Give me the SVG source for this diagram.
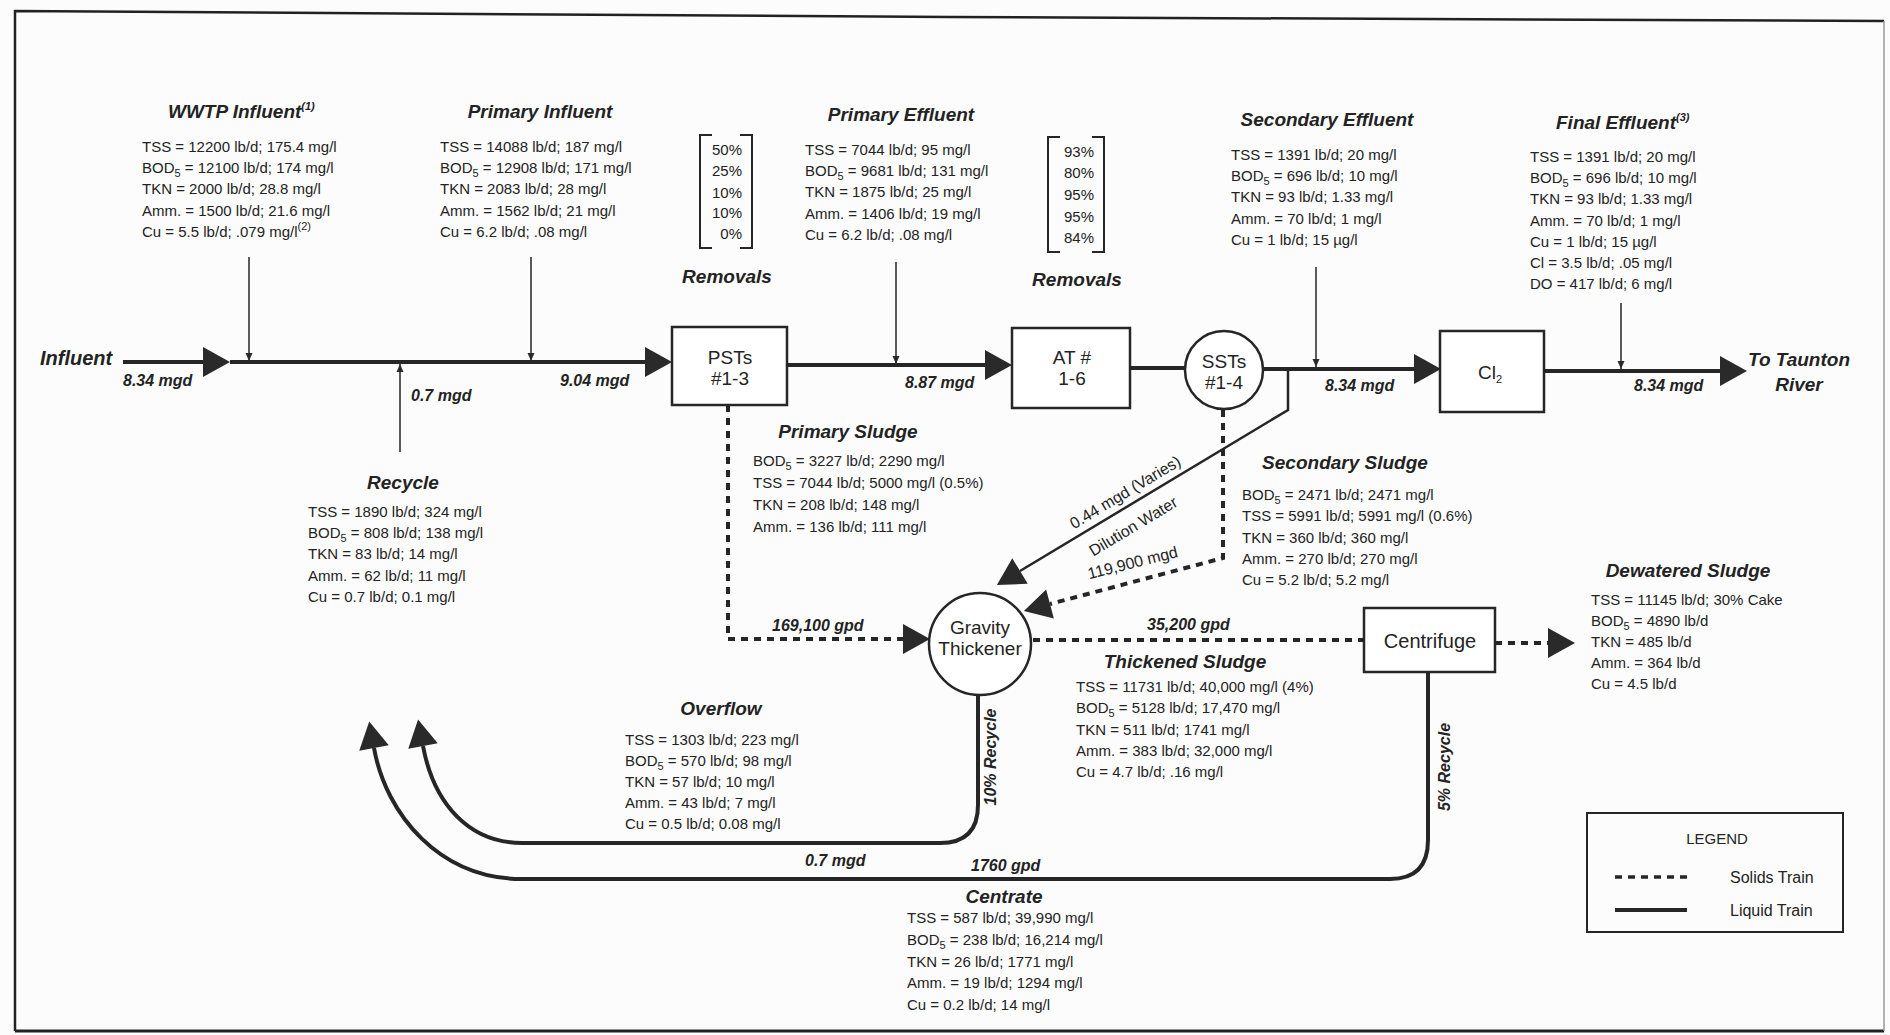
<svg xmlns="http://www.w3.org/2000/svg" width="1890" height="1035" viewBox="0 0 1890 1035">
<style>
text{font-family:"Liberation Sans",Arial,sans-serif;fill:#232323}
.d{font-size:15px}
.s{font-size:11px}
.t{font-size:19px;font-style:italic;font-weight:bold}
.f{font-size:16px;font-style:italic;font-weight:bold}
.n{font-size:19px}
.r{font-size:16px}
.c{text-anchor:middle}
.e{text-anchor:end}
.liq{stroke:#262626;stroke-width:4;fill:none}
.thin{stroke:#262626;stroke-width:2.5;fill:none}
.sol{stroke:#262626;stroke-width:4;stroke-dasharray:7 6;fill:none}
.ptr{stroke:#262626;stroke-width:1.5;fill:none}
.box{fill:#fff;stroke:#262626;stroke-width:2.5}
.brk{stroke:#262626;stroke-width:2;fill:none}
</style>
<defs>
<marker id="ah" markerUnits="userSpaceOnUse" markerWidth="28" markerHeight="30" refX="0" refY="15" orient="auto" overflow="visible"><path d="M0,0 L27,15 L0,30 Z" fill="#2a2a2a"/></marker>
<marker id="sa" markerUnits="userSpaceOnUse" markerWidth="8" markerHeight="8" refX="8" refY="3.5" orient="auto" overflow="visible"><path d="M0,0 L8,3.5 L0,7 Z" fill="#2a2a2a"/></marker>
</defs>
<rect width="1890" height="1035" fill="#fcfcfc"/>
<g id="frame">
<path d="M15,1031 V11 L950,17 L1884,21" fill="none" stroke="#222" stroke-width="2.5"/>
<path d="M15,1031 H1884" fill="none" stroke="#222" stroke-width="3"/>
<path d="M1884,21 V1031" fill="none" stroke="#999" stroke-width="1.5"/>
</g>

<g id="connectors">
<path class="liq" d="M123,362 H203" marker-end="url(#ah)"/>
<path class="liq" d="M230,362 H645" marker-end="url(#ah)"/>
<path class="liq" d="M787,365 H985" marker-end="url(#ah)"/>
<path class="liq" d="M1130,368 H1185"/>
<path class="liq" d="M1263,369 H1414" marker-end="url(#ah)"/>
<path class="liq" d="M1544,371 H1720" marker-end="url(#ah)"/>
<path class="ptr" d="M249,257 V361" marker-end="url(#sa)"/>
<path class="ptr" d="M531,257 V361" marker-end="url(#sa)"/>
<path class="ptr" d="M896,262 V364" marker-end="url(#sa)"/>
<path class="ptr" d="M1316,267 V367" marker-end="url(#sa)"/>
<path class="ptr" d="M1621,303 V369" marker-end="url(#sa)"/>
<path class="ptr" d="M400,452 V364" marker-end="url(#sa)"/>
<path class="sol" d="M728,405 V639 H903" marker-end="url(#ah)"/>
<path class="sol" d="M1223,410 V558 L1050,604" marker-end="url(#ah)"/>
<path class="thin" d="M1288,369 V410 L1020,571" marker-end="url(#ah)"/>
<path class="sol" d="M1033,640 H1364"/>
<path class="sol" d="M1495,643 H1548" marker-end="url(#ah)"/>
<path class="liq" d="M978,695 V805 Q978,843 940,843 H522 C470,843 434,805 423,746" marker-end="url(#ah)"/>
<path class="liq" d="M1428,672 V840 Q1428,879 1390,879 H522 C440,879 386,815 374,748" marker-end="url(#ah)"/>
</g>

<g id="flow-labels">
<text class="f" x="123" y="386">8.34 mgd</text>
<text class="f" x="411" y="401">0.7 mgd</text>
<text class="f" x="560" y="386">9.04 mgd</text>
<text class="f" x="905" y="388">8.87 mgd</text>
<text class="f" x="1325" y="391">8.34 mgd</text>
<text class="f" x="1634" y="391">8.34 mgd</text>
<text class="f" x="772" y="631">169,100 gpd</text>
<text class="f" x="1147" y="630">35,200 gpd</text>
<text class="f" x="805" y="866">0.7 mgd</text>
<text class="f" x="971" y="871">1760 gpd</text>
<text class="r c" transform="translate(1128,497) rotate(-31)">0.44 mgd (Varies)</text>
<text class="r c" transform="translate(1136,531) rotate(-31)">Dilution Water</text>
<text class="r c" transform="translate(1134,568) rotate(-14)">119,900 mgd</text>
<text class="f c" transform="translate(996,757) rotate(-90)">10% Recycle</text>
<text class="f c" transform="translate(1450,767) rotate(-90)">5% Recycle</text>
</g>

<g id="influent"><text class="t" x="40" y="365" style="font-size:20px">Influent</text></g>
<g id="river"><text class="t c" x="1799" y="366">To Taunton</text><text class="t c" x="1799" y="391">River</text></g>

<g id="pst"><rect class="box" x="672" y="327" width="115" height="78"/><text class="n c" x="730" y="364">PSTs</text><text class="n c" x="730" y="385">#1-3</text></g>
<g id="at"><rect class="box" x="1012" y="328" width="118" height="80"/><text class="n c" x="1072" y="364">AT #</text><text class="n c" x="1072" y="385">1-6</text></g>
<g id="sst"><circle class="box" cx="1224" cy="370" r="39"/><text class="n c" x="1224" y="368">SSTs</text><text class="n c" x="1224" y="389">#1-4</text></g>
<g id="cl2"><rect class="box" x="1440" y="331" width="104" height="81"/><text class="n c" x="1490" y="379">Cl<tspan class="s" dy="4">2</tspan></text></g>
<g id="thickener"><circle class="box" cx="980" cy="644" r="51"/><text class="n c" x="980" y="634">Gravity</text><text class="n c" x="980" y="655">Thickener</text></g>
<g id="centrifuge"><rect class="box" x="1364" y="608" width="131" height="64"/><text class="n c" x="1430" y="648" style="font-size:20px">Centrifuge</text></g>

<g id="wwtp-influent">
<text class="t" x="168" y="118">WWTP Influent<tspan class="s" dy="-8">(1)</tspan></text>
<g transform="translate(142,152)">
<text y="0" class="d">TSS = 12200 lb/d; 175.4 mg/l</text>
<text y="21.2" class="d">BOD<tspan class="s" dy="4">5</tspan><tspan dy="-4"> = 12100 lb/d; 174 mg/l</tspan></text>
<text y="42.4" class="d">TKN = 2000 lb/d; 28.8 mg/l</text>
<text y="63.6" class="d">Amm. = 1500 lb/d; 21.6 mg/l</text>
<text y="84.8" class="d">Cu = 5.5 lb/d; .079 mg/l<tspan class="s" dy="-7">(2)</tspan></text>
</g>
</g>

<g id="primary-influent">
<text class="t c" x="540" y="118">Primary Influent</text>
<g transform="translate(440,152)">
<text y="0" class="d">TSS = 14088 lb/d; 187 mg/l</text>
<text y="21.2" class="d">BOD<tspan class="s" dy="4">5</tspan><tspan dy="-4"> = 12908 lb/d; 171 mg/l</tspan></text>
<text y="42.4" class="d">TKN = 2083 lb/d; 28 mg/l</text>
<text y="63.6" class="d">Amm. = 1562 lb/d; 21 mg/l</text>
<text y="84.8" class="d">Cu = 6.2 lb/d; .08 mg/l</text>
</g>
</g>

<g id="removals-1">
<path class="brk" d="M712,135 H700 V248 H712 M740,135 H752 V248 H740"/>
<text class="d e" x="742" y="155">50%</text>
<text class="d e" x="742" y="176">25%</text>
<text class="d e" x="742" y="198">10%</text>
<text class="d e" x="742" y="218">10%</text>
<text class="d e" x="742" y="239">0%</text>
<text class="t c" x="727" y="283">Removals</text>
</g>

<g id="primary-effluent">
<text class="t c" x="901" y="121">Primary Effluent</text>
<g transform="translate(805,155)">
<text y="0" class="d">TSS = 7044 lb/d; 95 mg/l</text>
<text y="21.2" class="d">BOD<tspan class="s" dy="4">5</tspan><tspan dy="-4">  = 9681 lb/d; 131 mg/l</tspan></text>
<text y="42.4" class="d">TKN = 1875 lb/d; 25 mg/l</text>
<text y="63.6" class="d">Amm. = 1406 lb/d; 19 mg/l</text>
<text y="84.8" class="d">Cu = 6.2 lb/d; .08 mg/l</text>
</g>
</g>

<g id="removals-2">
<path class="brk" d="M1060,137 H1048 V252 H1060 M1092,137 H1104 V252 H1092"/>
<text class="d e" x="1094" y="157">93%</text>
<text class="d e" x="1094" y="178">80%</text>
<text class="d e" x="1094" y="200">95%</text>
<text class="d e" x="1094" y="222">95%</text>
<text class="d e" x="1094" y="243">84%</text>
<text class="t c" x="1077" y="286">Removals</text>
</g>

<g id="secondary-effluent">
<text class="t c" x="1327" y="126">Secondary Effluent</text>
<g transform="translate(1231,160)">
<text y="0" class="d">TSS = 1391 lb/d; 20 mg/l</text>
<text y="21.2" class="d">BOD<tspan class="s" dy="4">5</tspan><tspan dy="-4">  = 696 lb/d; 10 mg/l</tspan></text>
<text y="42.4" class="d">TKN = 93 lb/d; 1.33 mg/l</text>
<text y="63.6" class="d">Amm. = 70 lb/d; 1 mg/l</text>
<text y="84.8" class="d">Cu = 1 lb/d; 15 µg/l</text>
</g>
</g>

<g id="final-effluent">
<text class="t" x="1556" y="129">Final Effluent<tspan class="s" dy="-8">(3)</tspan></text>
<g transform="translate(1530,162)">
<text y="0" class="d">TSS = 1391 lb/d; 20 mg/l</text>
<text y="21.2" class="d">BOD<tspan class="s" dy="4">5</tspan><tspan dy="-4">  = 696 lb/d; 10 mg/l</tspan></text>
<text y="42.4" class="d">TKN = 93 lb/d; 1.33 mg/l</text>
<text y="63.6" class="d">Amm. = 70 lb/d; 1 mg/l</text>
<text y="84.8" class="d">Cu = 1 lb/d; 15 µg/l</text>
<text y="106" class="d">Cl = 3.5 lb/d; .05 mg/l</text>
<text y="127.2" class="d">DO = 417 lb/d; 6 mg/l</text>
</g>
</g>

<g id="recycle">
<text class="t c" x="403" y="489">Recycle</text>
<g transform="translate(308,517)">
<text y="0" class="d">TSS = 1890 lb/d; 324 mg/l</text>
<text y="21.2" class="d">BOD<tspan class="s" dy="4">5</tspan><tspan dy="-4">  = 808 lb/d; 138 mg/l</tspan></text>
<text y="42.4" class="d">TKN = 83 lb/d; 14 mg/l</text>
<text y="63.6" class="d">Amm. = 62 lb/d; 11 mg/l</text>
<text y="84.8" class="d">Cu = 0.7 lb/d; 0.1 mg/l</text>
</g>
</g>

<g id="primary-sludge">
<text class="t c" x="848" y="438">Primary Sludge</text>
<g transform="translate(753,466)">
<text y="0" class="d">BOD<tspan class="s" dy="4">5</tspan><tspan dy="-4">  = 3227 lb/d; 2290 mg/l</tspan></text>
<text y="22" class="d">TSS = 7044 lb/d; 5000 mg/l (0.5%)</text>
<text y="44" class="d">TKN = 208 lb/d; 148 mg/l</text>
<text y="66" class="d">Amm. = 136 lb/d; 111 mg/l</text>
</g>
</g>

<g id="secondary-sludge">
<text class="t c" x="1345" y="469">Secondary Sludge</text>
<g transform="translate(1242,500)">
<text y="0" class="d">BOD<tspan class="s" dy="4">5</tspan><tspan dy="-4">  = 2471 lb/d; 2471 mg/l</tspan></text>
<text y="21.3" class="d">TSS = 5991 lb/d; 5991 mg/l (0.6%)</text>
<text y="42.6" class="d">TKN = 360 lb/d; 360 mg/l</text>
<text y="63.9" class="d">Amm. = 270 lb/d; 270 mg/l</text>
<text y="85.2" class="d">Cu = 5.2 lb/d; 5.2 mg/l</text>
</g>
</g>

<g id="dewatered-sludge">
<text class="t c" x="1688" y="577">Dewatered Sludge</text>
<g transform="translate(1591,605)">
<text y="0" class="d">TSS = 11145 lb/d; 30% Cake</text>
<text y="21" class="d">BOD<tspan class="s" dy="4">5</tspan><tspan dy="-4">  = 4890 lb/d</tspan></text>
<text y="42" class="d">TKN = 485 lb/d</text>
<text y="63" class="d">Amm. = 364 lb/d</text>
<text y="84" class="d">Cu = 4.5 lb/d</text>
</g>
</g>

<g id="thickened-sludge">
<text class="t c" x="1185" y="668">Thickened Sludge</text>
<g transform="translate(1076,692)">
<text y="0" class="d">TSS = 11731 lb/d; 40,000 mg/l (4%)</text>
<text y="21.3" class="d">BOD<tspan class="s" dy="4">5</tspan><tspan dy="-4">  = 5128 lb/d; 17,470 mg/l</tspan></text>
<text y="42.6" class="d">TKN = 511 lb/d; 1741 mg/l</text>
<text y="63.9" class="d">Amm. = 383 lb/d; 32,000 mg/l</text>
<text y="85.2" class="d">Cu = 4.7 lb/d; .16 mg/l</text>
</g>
</g>

<g id="overflow">
<text class="t c" x="721" y="715">Overflow</text>
<g transform="translate(625,745)">
<text y="0" class="d">TSS = 1303 lb/d; 223 mg/l</text>
<text y="21" class="d">BOD<tspan class="s" dy="4">5</tspan><tspan dy="-4">  = 570 lb/d; 98 mg/l</tspan></text>
<text y="42" class="d">TKN = 57 lb/d; 10 mg/l</text>
<text y="63" class="d">Amm. = 43 lb/d; 7 mg/l</text>
<text y="84" class="d">Cu = 0.5 lb/d; 0.08 mg/l</text>
</g>
</g>

<g id="centrate">
<text class="t c" x="1004" y="903">Centrate</text>
<g transform="translate(907,923)">
<text y="0" class="d">TSS = 587 lb/d; 39,990 mg/l</text>
<text y="21.8" class="d">BOD<tspan class="s" dy="4">5</tspan><tspan dy="-4">  = 238 lb/d; 16,214 mg/l</tspan></text>
<text y="43.6" class="d">TKN = 26 lb/d; 1771 mg/l</text>
<text y="65.4" class="d">Amm. = 19 lb/d; 1294 mg/l</text>
<text y="87.2" class="d">Cu = 0.2 lb/d; 14 mg/l</text>
</g>
</g>

<g id="legend">
<rect x="1587" y="813" width="256" height="119" fill="none" stroke="#262626" stroke-width="2"/>
<text class="c" x="1717" y="844" style="font-size:15px">LEGEND</text>
<path class="sol" d="M1615,877 H1687" style="stroke-width:3.5"/>
<path class="liq" d="M1615,910 H1687"/>
<text x="1730" y="883" style="font-size:16px">Solids Train</text>
<text x="1730" y="916" style="font-size:16px">Liquid Train</text>
</g>
</svg>
